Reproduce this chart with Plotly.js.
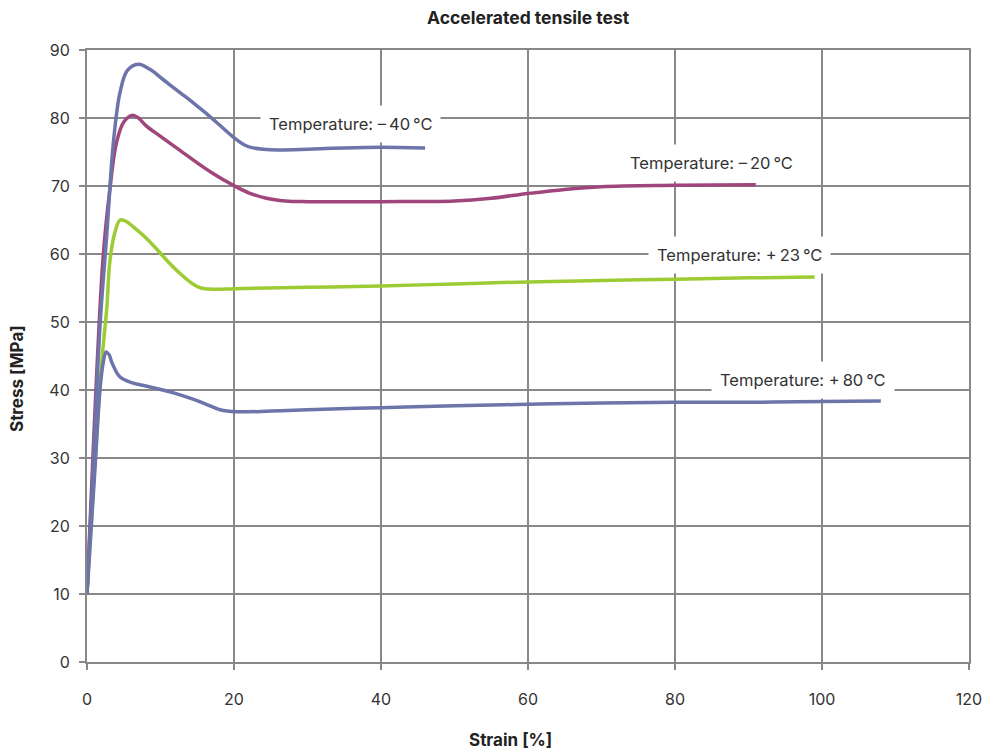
<!DOCTYPE html>
<html>
<head>
<meta charset="utf-8">
<script src="https://cdn.plot.ly/plotly-3.0.1.min.js"></script>
<style>html,body{margin:0;padding:0;background:#fff;}#chart{width:989px;height:749px;}</style>
</head>
<body>
<div id="chart"></div>
<script>
// Data
const strainM40 = [0, 0.9, 1.8, 2.7, 3.6, 4.5, 5.5, 7, 8.5, 10.3, 12.7, 14.5, 16.3, 18, 19.9, 21.5, 22.6, 24, 26, 30, 35, 40, 46];
const stressM40 = [10, 30, 50, 63, 76.5, 83.8, 87.0, 87.9, 87.2, 85.7, 83.7, 82.2, 80.6, 79.0, 77.2, 76.0, 75.6, 75.4, 75.3, 75.4, 75.6, 75.7, 75.6];

const strainM20 = [0, 1, 2.2, 3.1, 4.0, 5.0, 6.2, 7.0, 8.1, 10, 12.7, 15, 17.2, 19.9, 22, 24.4, 27, 30, 40, 50, 55, 60, 65, 70, 80, 91];
const stressM20 = [10, 35, 59.6, 69.4, 76.3, 79.4, 80.4, 80.0, 78.8, 77.3, 75.2, 73.4, 71.8, 70.1, 69.0, 68.2, 67.8, 67.7, 67.7, 67.8, 68.2, 68.9, 69.5, 69.9, 70.1, 70.2];

const strainP23 = [0, 1, 2, 2.7, 3.1, 3.8, 4.5, 5.3, 6.3, 8, 9.5, 11, 12.7, 14.4, 15.5, 16.5, 18, 20, 30, 40, 50, 60, 70, 80, 90, 99];
const stressP23 = [10, 28, 44, 52.2, 58.8, 63.2, 65, 64.8, 64.0, 62.4, 60.7, 58.9, 57.1, 55.6, 55.0, 54.85, 54.8, 54.9, 55.1, 55.3, 55.6, 55.9, 56.1, 56.3, 56.5, 56.6];

const strainP80 = [0, 1.1, 1.8, 2.2, 2.6, 3.0, 3.4, 4.5, 6.3, 8, 10.3, 12, 14, 16, 18.1, 20.4, 25, 30, 40, 50, 60, 70, 80, 90, 100, 108];
const stressP80 = [10, 28.7, 40.5, 44, 45.6, 45.2, 44, 41.9, 41, 40.6, 40, 39.5, 38.8, 38, 37.1, 36.8, 36.9, 37.1, 37.4, 37.7, 37.9, 38.1, 38.2, 38.2, 38.3, 38.4];

const labels = ['Temperature: \u2013\u200940\u2009\u00b0C', 'Temperature: \u2013\u200920\u2009\u00b0C', 'Temperature: +\u200923\u2009\u00b0C', 'Temperature: +\u200980\u2009\u00b0C'];
const labelX = [35.8, 85, 88.8, 97.4];
const labelY = [79.1, 73.4, 59.9, 41.5];

const xTitle = 'Strain [%]';
const yTitle = 'Stress [MPa]';

const FONT = 'Inter, "Noto Sans", "DejaVu Sans", sans-serif';
const line = (c) => ({color: c, width: 3.5, shape: 'spline', smoothing: 1});

const traces = [
  {x: strainP23, y: stressP23, mode: 'lines', line: line('#9ccb34'), name: labels[2]},
  {x: strainM20, y: stressM20, mode: 'lines', line: line('#a0467c'), name: labels[1]},
  {x: strainM40, y: stressM40, mode: 'lines', line: line('#6c74aa'), name: labels[0]},
  {x: strainP80, y: stressP80, mode: 'lines', line: line('#6c74aa'), name: labels[3]}
];

const annotations = labels.map((t, i) => ({
  x: labelX[i], y: labelY[i], xref: 'x', yref: 'y', text: t, showarrow: false,
  bgcolor: '#ffffff', borderpad: 8, font: {family: FONT, size: 16.5, color: '#333333'}
}));
annotations.push({
  xref: 'paper', yref: 'paper', x: 0.4796, y: -0.1275, xanchor: 'center', yanchor: 'middle',
  text: '<b>' + xTitle + '</b>', showarrow: false, font: {family: FONT, size: 17, color: '#222222'}
});
annotations.push({
  xref: 'paper', yref: 'paper', x: -0.0794, y: 0.464, xanchor: 'center', yanchor: 'middle', textangle: -90,
  text: '<b>' + yTitle + '</b>', showarrow: false, font: {family: FONT, size: 17, color: '#222222'}
});

const axisCommon = {
  showgrid: true, gridcolor: '#888888', gridwidth: 2,
  showline: true, mirror: true, linecolor: '#888888', linewidth: 2,
  zeroline: false,
  ticks: 'outside', ticklen: 6, tickwidth: 2, tickcolor: '#888888',
  tickfont: {family: FONT, size: 16, color: '#333333'}
};

const layout = {
  width: 989, height: 749,
  margin: {l: 87, r: 20, t: 50, b: 87},
  paper_bgcolor: '#ffffff', plot_bgcolor: '#ffffff',
  showlegend: false,
  title: {text: '<b>Accelerated tensile test</b>', x: 0.534, xanchor: 'center', y: 0.976, yanchor: 'middle',
          font: {family: FONT, size: 17.5, color: '#222222'}},
  xaxis: Object.assign({}, axisCommon, {
    range: [0, 120], tickvals: [0, 20, 40, 60, 80, 100, 120], ticklabelstandoff: 16
  }),
  yaxis: Object.assign({}, axisCommon, {
    range: [0, 90], tickvals: [0, 10, 20, 30, 40, 50, 60, 70, 80, 90], ticklabelstandoff: 6
  }),
  annotations: annotations
};

Plotly.newPlot('chart', traces, layout, {displayModeBar: false, staticPlot: true});
</script>
</body>
</html>
